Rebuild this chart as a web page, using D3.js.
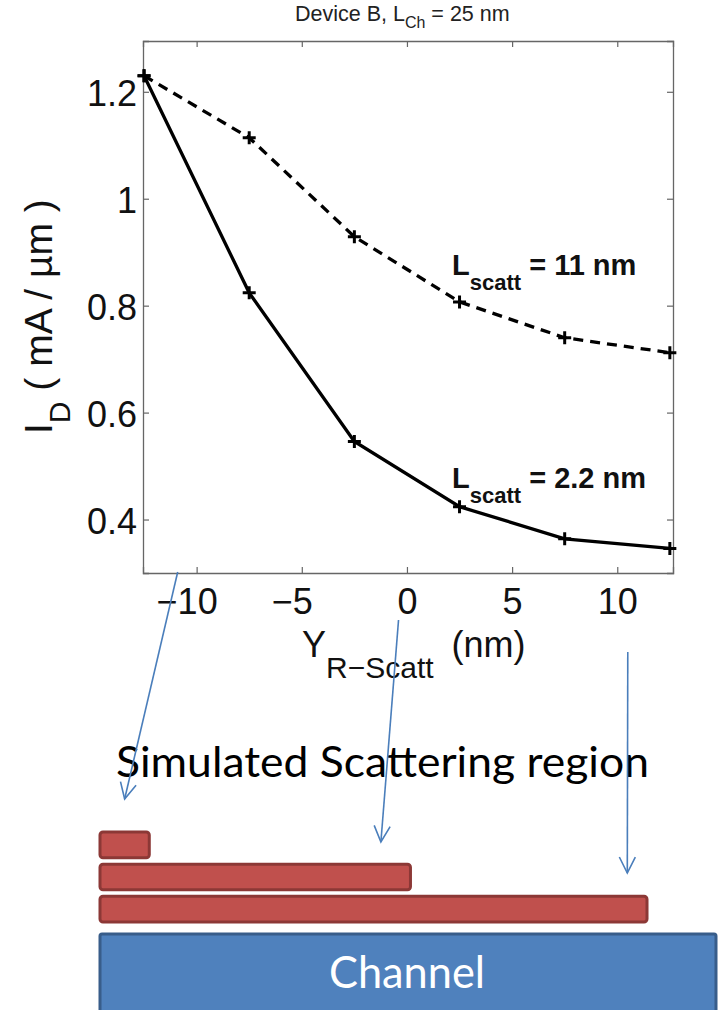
<!DOCTYPE html>
<html>
<head>
<meta charset="utf-8">
<script src="https://cdn.jsdelivr.net/npm/d3@7"></script>
<style>
  body { margin: 0; background: #fff; }
  svg text { font-family: "Liberation Sans", Arial, sans-serif; }
</style>
</head>
<body>
<div id="chart"></div>
<script>
// --- data ---
const scattPositions = [-12.5, -7.5, -2.5, 2.5, 7.5, 12.5];   // Y_R-Scatt (nm)
const currentShort = [1.230, 0.824, 0.546, 0.424, 0.364, 0.346]; // L_scatt = 2.2 nm
const currentLong  = [1.230, 1.114, 0.929, 0.807, 0.740, 0.712]; // L_scatt = 11 nm
const xTicks = [-10, -5, 0, 5, 10];
const yTicks = [0.4, 0.6, 0.8, 1.0, 1.2];

// lower sketch: channel and the three simulated scattering regions (nm along channel)
const channelLength = 25;
const regionEnds = [2.0, 12.6, 22.2];
const arrowFrom = [-10.9, -0.4, 10.5];   // on the plot x axis
const arrowTo = [1.0, 11.4, 21.4];       // on the channel sketch

const W = 720, H = 1010;
const svg = d3.select("#chart").append("svg")
  .attr("width", W).attr("height", H);

// --- scales ---
const x = d3.scaleLinear().domain([-12.55, 12.65]).range([143, 673]);
const y = d3.scaleLinear().domain([0.3, 1.295]).range([573, 41]);
const xd = d3.scaleLinear().domain([0, channelLength]).range([100, 716]);
const rows = d3.scaleBand().domain(d3.range(regionEnds.length)).range([832, 922]).paddingInner(0.2);

// --- title ---
const title = svg.append("text").attr("x", 295).attr("y", 21)
  .style("font-size", "21.5px").attr("fill", "#222");
title.append("tspan").text("Device B, L");
title.append("tspan").attr("dy", 7).style("font-size", "16px").text("Ch");
title.append("tspan").attr("dy", -7).text(" = 25 nm");

// --- axes (box with inward ticks on all sides) ---
const axisColor = "#666";
const gB = svg.append("g").attr("transform", `translate(0,${y.range()[0]})`)
  .call(d3.axisBottom(x).tickValues(xTicks).tickSize(-6).tickPadding(0));
const gT = svg.append("g").attr("transform", `translate(0,${y.range()[1]})`)
  .call(d3.axisTop(x).tickValues(xTicks).tickSize(-6).tickFormat(""));
const gL = svg.append("g").attr("transform", `translate(${x.range()[0]},0)`)
  .call(d3.axisLeft(y).tickValues(yTicks).tickSize(-6).tickFormat(d => d === 1 ? "1" : d3.format(".1f")(d)));
const gR = svg.append("g").attr("transform", `translate(${x.range()[1]},0)`)
  .call(d3.axisRight(y).tickValues(yTicks).tickSize(-6).tickFormat(""));

[gB, gT, gL, gR].forEach(g => {
  g.select(".domain").attr("stroke", axisColor).attr("stroke-width", 1.3);
  g.selectAll(".tick line").attr("stroke", axisColor).attr("stroke-width", 1.2);
});
gB.selectAll(".tick text")
  .attr("y", 41).attr("dy", 0)
  .attr("dx", d => d < 0 ? -10 : 0)
  .style("font-size", "36px").style("font-family", "Liberation Sans, Arial, sans-serif")
  .attr("fill", "#111");
gL.selectAll(".tick text")
  .attr("x", -6).attr("dy", 14)
  .style("font-size", "36px").style("font-family", "Liberation Sans, Arial, sans-serif")
  .attr("fill", "#111");

// --- axis labels ---
const xl = svg.append("text").attr("x", 302).attr("y", 657)
  .style("font-size", "36px").attr("fill", "#111");
xl.append("tspan").text("Y");
xl.append("tspan").attr("dy", 21).style("font-size", "30px").text("R\u2212Scatt");
xl.append("tspan").attr("dy", -21).attr("dx", 8).text(" (nm)");

const yl = svg.append("text")
  .attr("transform", "translate(52,434) rotate(-90)")
  .style("font-size", "39px").attr("fill", "#111");
yl.append("tspan").text("I");
yl.append("tspan").attr("dy", 18).style("font-size", "30px").text("D");
yl.append("tspan").attr("dy", -18).text(" ( mA / \u00b5m )");

// --- series ---
const series = [
  { values: currentLong, dash: "10,7", label: "11 nm", ly: 275 },
  { values: currentShort, dash: null, label: "2.2 nm", ly: 488 }
];
const line = d3.line().x(d => x(d[0])).y(d => y(d[1]));

series.forEach(s => {
  const pts = scattPositions.map((p, i) => [p, s.values[i]]);
  svg.append("path").datum(pts)
    .attr("d", line)
    .attr("fill", "none").attr("stroke", "#000")
    .attr("stroke-width", 3.3)
    .attr("stroke-dasharray", s.dash);
  svg.append("g").selectAll("path").data(pts).enter().append("path")
    .attr("transform", d => `translate(${x(d[0])},${y(d[1])})`)
    .attr("d", "M-6.5,0H6.5M0,-6.5V6.5")
    .attr("stroke", "#000").attr("stroke-width", 3);

  const t = svg.append("text").attr("x", 452).attr("y", s.ly)
    .style("font-size", "29px").style("font-weight", "bold").attr("fill", "#111");
  t.append("tspan").text("L");
  t.append("tspan").attr("dy", 15).style("font-size", "22px").text("scatt");
  t.append("tspan").attr("dy", -15).text(" = " + s.label);
});

// --- channel sketch ---
svg.append("text").attr("x", 116).attr("y", 777)
  .attr("textLength", 533).attr("lengthAdjust", "spacingAndGlyphs")
  .style("font-family", "Lato, 'Open Sans', sans-serif")
  .style("font-size", "42px").attr("fill", "#000")
  .text("Simulated Scattering region");

svg.append("g").selectAll("rect").data(regionEnds).enter().append("rect")
  .attr("x", xd(0))
  .attr("y", (d, i) => rows(i))
  .attr("width", d => xd(d) - xd(0))
  .attr("height", rows.bandwidth())
  .attr("rx", 3)
  .attr("fill", "#c0504d").attr("stroke", "#8c3836").attr("stroke-width", 3);

svg.append("rect")
  .attr("x", xd(0)).attr("y", 934)
  .attr("width", xd(channelLength) - xd(0)).attr("height", 80)
  .attr("rx", 2)
  .attr("fill", "#4f81bd").attr("stroke", "#385d8a").attr("stroke-width", 3);

svg.append("text")
  .attr("x", (xd(0) + xd(channelLength)) / 2 - 1).attr("y", 988)
  .attr("text-anchor", "middle")
  .attr("textLength", 156).attr("lengthAdjust", "spacingAndGlyphs")
  .style("font-family", "Lato, 'Open Sans', sans-serif")
  .style("font-size", "44px").attr("fill", "#fff")
  .text("Channel");

// --- arrows from the plot down to the sketch ---
svg.append("defs").append("marker")
  .attr("id", "vhead")
  .attr("viewBox", "-18 -10 20 20")
  .attr("markerWidth", 20).attr("markerHeight", 20)
  .attr("markerUnits", "userSpaceOnUse")
  .attr("refX", 0).attr("refY", 0)
  .attr("orient", "auto")
  .append("path")
  .attr("d", "M-16,-8L0,0L-16,8")
  .attr("fill", "none").attr("stroke", "#4a7ebb").attr("stroke-width", 1.6);

const arrowStartY = [572, 620, 652];
const arrowEndY = [799, 842, 873];
svg.append("g").selectAll("line").data(arrowFrom).enter().append("line")
  .attr("x1", d => x(d))
  .attr("y1", (d, i) => arrowStartY[i])
  .attr("x2", (d, i) => xd(arrowTo[i]))
  .attr("y2", (d, i) => arrowEndY[i])
  .attr("stroke", "#4a7ebb").attr("stroke-width", 1.6)
  .attr("marker-end", "url(#vhead)");
</script>
</body>
</html>
